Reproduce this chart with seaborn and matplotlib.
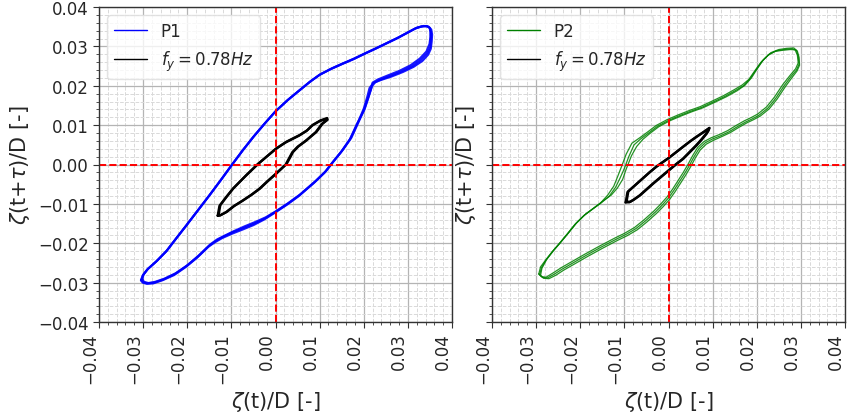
import matplotlib
matplotlib.use("Agg")
import matplotlib.pyplot as plt
from matplotlib.lines import Line2D
from matplotlib.ticker import MultipleLocator
import numpy as np
import pandas as pd
import seaborn as sns

# Phase portraits: zeta(t)/D against zeta(t+tau)/D, several recorded cycles each
P1_cycle_a = [(-0.0304,-0.0293),(-0.0300,-0.0281),(-0.0290,-0.0266),(-0.0270,-0.0246),(-0.0247,-0.0220),
              (-0.0225,-0.0188),(-0.0202,-0.0155),(-0.0176,-0.0117),(-0.0150,-0.0079),(-0.0124,-0.0040),
              (-0.0098,0.0000),(-0.0074,0.0036),(-0.0050,0.0070),(-0.0025,0.0103),(0.0000,0.0135),
              (0.0027,0.0163),(0.0054,0.0188),(0.0078,0.0210),(0.0100,0.0228),(0.0126,0.0243),
              (0.0152,0.0256),(0.0177,0.0268),(0.0201,0.0281),(0.0226,0.0294),(0.0250,0.0307),
              (0.0276,0.0321),(0.0301,0.0336),(0.0318,0.0346),(0.0332,0.0351),(0.0344,0.0351),
              (0.0350,0.0346),(0.0352,0.0335),(0.0352,0.0319),(0.0351,0.0300),(0.0344,0.0283),
              (0.0330,0.0266),(0.0310,0.0250),(0.0285,0.0236),(0.0258,0.0224),(0.0235,0.0214),
              (0.0221,0.0206),(0.0213,0.0194),(0.0208,0.0172),(0.0200,0.0142),(0.0188,0.0110),
              (0.0170,0.0066),(0.0150,0.0034),(0.0129,0.0005),(0.0113,-0.0018),(0.0090,-0.0043),
              (0.0054,-0.0078),(0.0027,-0.0100),(0.0000,-0.0120),(-0.0024,-0.0137),(-0.0048,-0.0150),
              (-0.0072,-0.0161),(-0.0097,-0.0172),(-0.0118,-0.0183),(-0.0135,-0.0194),(-0.0150,-0.0206),
              (-0.0176,-0.0234),(-0.0202,-0.0258),(-0.0228,-0.0278),(-0.0254,-0.0292),(-0.0275,-0.0300),
              (-0.0290,-0.0302),(-0.0300,-0.0299),(-0.0304,-0.0293)]
P1_cycle_b = [(-0.0302,-0.0291),(-0.0299,-0.0279),(-0.0288,-0.0264),(-0.0268,-0.0244),(-0.0246,-0.0218),
              (-0.0224,-0.0186),(-0.0201,-0.0153),(-0.0175,-0.0115),(-0.0149,-0.0077),(-0.0123,-0.0038),
              (-0.0097,0.0002),(-0.0073,0.0038),(-0.0049,0.0072),(-0.0024,0.0105),(0.0002,0.0137),
              (0.0029,0.0165),(0.0056,0.0190),(0.0080,0.0212),(0.0103,0.0230),(0.0129,0.0245),
              (0.0155,0.0258),(0.0180,0.0270),(0.0204,0.0283),(0.0229,0.0296),(0.0253,0.0309),
              (0.0279,0.0323),(0.0304,0.0338),(0.0321,0.0348),(0.0336,0.0352),(0.0347,0.0350),
              (0.0353,0.0343),(0.0355,0.0330),(0.0354,0.0312),(0.0352,0.0294),(0.0346,0.0279),
              (0.0333,0.0263),(0.0313,0.0248),(0.0289,0.0235),(0.0262,0.0223),(0.0240,0.0215),
              (0.0226,0.0209),(0.0219,0.0199),(0.0212,0.0176),(0.0203,0.0145),(0.0190,0.0112),
              (0.0172,0.0068),(0.0152,0.0036),(0.0131,0.0007),(0.0115,-0.0016),(0.0092,-0.0041),
              (0.0056,-0.0076),(0.0029,-0.0098),(0.0002,-0.0118),(-0.0022,-0.0134),(-0.0046,-0.0146),
              (-0.0070,-0.0157),(-0.0094,-0.0169),(-0.0114,-0.0180),(-0.0132,-0.0190),(-0.0148,-0.0203),
              (-0.0174,-0.0231),(-0.0200,-0.0256),(-0.0226,-0.0276),(-0.0252,-0.0290),(-0.0273,-0.0298),
              (-0.0288,-0.0301),(-0.0298,-0.0298),(-0.0302,-0.0291)]
P1_cycle_c = [(-0.0305,-0.0294),(-0.0301,-0.0282),(-0.0291,-0.0267),(-0.0271,-0.0247),(-0.0248,-0.0221),
              (-0.0226,-0.0189),(-0.0203,-0.0156),(-0.0177,-0.0118),(-0.0151,-0.0080),(-0.0125,-0.0041),
              (-0.0099,-0.0001),(-0.0075,0.0035),(-0.0051,0.0069),(-0.0026,0.0102),(-0.0001,0.0134),
              (0.0026,0.0162),(0.0053,0.0187),(0.0077,0.0209),(0.0099,0.0227),(0.0125,0.0242),
              (0.0151,0.0255),(0.0176,0.0267),(0.0200,0.0280),(0.0225,0.0293),(0.0249,0.0306),
              (0.0275,0.0320),(0.0300,0.0335),(0.0316,0.0345),(0.0330,0.0350),(0.0342,0.0352),
              (0.0349,0.0348),(0.0351,0.0338),(0.0351,0.0324),(0.0349,0.0306),(0.0342,0.0287),
              (0.0327,0.0269),(0.0306,0.0252),(0.0281,0.0238),(0.0254,0.0226),(0.0232,0.0216),
              (0.0220,0.0208),(0.0216,0.0190),(0.0210,0.0168),(0.0201,0.0138),(0.0186,0.0106),
              (0.0168,0.0063),(0.0148,0.0031),(0.0127,0.0002),(0.0111,-0.0021),(0.0088,-0.0046),
              (0.0052,-0.0081),(0.0025,-0.0103),(-0.0002,-0.0123),(-0.0026,-0.0140),(-0.0050,-0.0154),
              (-0.0074,-0.0165),(-0.0099,-0.0176),(-0.0121,-0.0187),(-0.0138,-0.0198),(-0.0152,-0.0209),
              (-0.0178,-0.0237),(-0.0204,-0.0261),(-0.0230,-0.0281),(-0.0256,-0.0294),(-0.0277,-0.0302),
              (-0.0292,-0.0303),(-0.0301,-0.0300),(-0.0305,-0.0294)]

P2_cycle_a = [(-0.0292,-0.0280),(-0.0288,-0.0262),(-0.0278,-0.0243),(-0.0262,-0.0220),(-0.0245,-0.0198),
              (-0.0228,-0.0175),(-0.0210,-0.0150),(-0.0190,-0.0128),(-0.0172,-0.0113),(-0.0152,-0.0097),
              (-0.0134,-0.0080),(-0.0120,-0.0058),(-0.0110,-0.0035),(-0.0100,-0.0010),(-0.0090,0.0020),
              (-0.0078,0.0050),(-0.0062,0.0066),(-0.0045,0.0080),(-0.0025,0.0097),(0.0000,0.0112),
              (0.0025,0.0124),(0.0050,0.0135),(0.0075,0.0145),(0.0100,0.0158),(0.0128,0.0173),
              (0.0152,0.0188),(0.0170,0.0200),(0.0185,0.0218),(0.0198,0.0240),(0.0212,0.0262),
              (0.0228,0.0280),(0.0245,0.0289),(0.0262,0.0292),(0.0280,0.0294),(0.0290,0.0290),
              (0.0294,0.0275),(0.0296,0.0255),(0.0290,0.0240),(0.0278,0.0224),(0.0262,0.0200),
              (0.0243,0.0168),(0.0225,0.0143),(0.0205,0.0125),(0.0190,0.0116),(0.0175,0.0108),
              (0.0156,0.0096),(0.0137,0.0083),(0.0118,0.0073),(0.0100,0.0065),(0.0083,0.0055),
              (0.0069,0.0040),(0.0058,0.0020),(0.0047,-0.0003),(0.0036,-0.0024),(0.0024,-0.0045),
              (0.0012,-0.0066),(0.0000,-0.0085),(-0.0015,-0.0104),(-0.0030,-0.0121),(-0.0052,-0.0143),
              (-0.0074,-0.0163),(-0.0097,-0.0178),(-0.0119,-0.0190),(-0.0153,-0.0210),(-0.0187,-0.0231),
              (-0.0215,-0.0249),(-0.0240,-0.0265),(-0.0258,-0.0278),(-0.0274,-0.0288),(-0.0285,-0.0287),
              (-0.0292,-0.0280)]
P2_cycle_b = [(-0.0290,-0.0282),(-0.0287,-0.0264),(-0.0276,-0.0241),(-0.0260,-0.0218),(-0.0243,-0.0196),
              (-0.0226,-0.0173),(-0.0208,-0.0148),(-0.0188,-0.0126),(-0.0170,-0.0111),(-0.0150,-0.0094),
              (-0.0130,-0.0078),(-0.0116,-0.0060),(-0.0104,-0.0038),(-0.0096,-0.0012),(-0.0084,0.0022),
              (-0.0072,0.0046),(-0.0058,0.0064),(-0.0042,0.0079),(-0.0022,0.0096),(0.0003,0.0111),
              (0.0028,0.0123),(0.0053,0.0134),(0.0078,0.0144),(0.0103,0.0157),(0.0131,0.0172),
              (0.0155,0.0187),(0.0173,0.0201),(0.0188,0.0220),(0.0201,0.0243),(0.0215,0.0266),
              (0.0232,0.0284),(0.0250,0.0292),(0.0268,0.0295),(0.0284,0.0296),(0.0292,0.0288),
              (0.0296,0.0272),(0.0297,0.0252),(0.0291,0.0237),(0.0280,0.0221),(0.0265,0.0198),
              (0.0246,0.0166),(0.0228,0.0141),(0.0208,0.0123),(0.0193,0.0114),(0.0178,0.0106),
              (0.0159,0.0094),(0.0140,0.0081),(0.0121,0.0071),(0.0103,0.0062),(0.0086,0.0052),
              (0.0072,0.0037),(0.0061,0.0017),(0.0050,-0.0006),(0.0039,-0.0027),(0.0027,-0.0048),
              (0.0015,-0.0069),(0.0003,-0.0088),(-0.0012,-0.0107),(-0.0027,-0.0124),(-0.0049,-0.0146),
              (-0.0071,-0.0166),(-0.0094,-0.0181),(-0.0116,-0.0193),(-0.0150,-0.0213),(-0.0184,-0.0234),
              (-0.0212,-0.0252),(-0.0237,-0.0268),(-0.0255,-0.0281),(-0.0271,-0.0290),(-0.0283,-0.0289),
              (-0.0290,-0.0282)]
P2_cycle_c = [(-0.0294,-0.0278),(-0.0290,-0.0260),(-0.0280,-0.0245),(-0.0264,-0.0222),(-0.0247,-0.0200),
              (-0.0230,-0.0177),(-0.0212,-0.0152),(-0.0192,-0.0130),(-0.0174,-0.0115),(-0.0155,-0.0099),
              (-0.0138,-0.0078),(-0.0124,-0.0055),(-0.0115,-0.0030),(-0.0106,-0.0004),(-0.0096,0.0026),
              (-0.0083,0.0054),(-0.0065,0.0068),(-0.0048,0.0082),(-0.0028,0.0099),(-0.0003,0.0114),
              (0.0022,0.0126),(0.0047,0.0137),(0.0072,0.0147),(0.0097,0.0160),(0.0125,0.0175),
              (0.0149,0.0190),(0.0167,0.0202),(0.0182,0.0216),(0.0195,0.0237),(0.0209,0.0259),
              (0.0225,0.0277),(0.0241,0.0287),(0.0258,0.0290),(0.0276,0.0292),(0.0287,0.0291),
              (0.0292,0.0278),(0.0294,0.0258),(0.0288,0.0243),(0.0276,0.0227),(0.0259,0.0203),
              (0.0240,0.0171),(0.0222,0.0146),(0.0202,0.0128),(0.0187,0.0119),(0.0172,0.0111),
              (0.0153,0.0099),(0.0134,0.0086),(0.0115,0.0076),(0.0097,0.0068),(0.0080,0.0058),
              (0.0066,0.0043),(0.0055,0.0023),(0.0044,0.0000),(0.0033,-0.0021),(0.0021,-0.0042),
              (0.0009,-0.0063),(-0.0003,-0.0082),(-0.0018,-0.0101),(-0.0033,-0.0118),(-0.0055,-0.0140),
              (-0.0077,-0.0160),(-0.0100,-0.0175),(-0.0122,-0.0187),(-0.0156,-0.0207),(-0.0190,-0.0228),
              (-0.0218,-0.0246),(-0.0243,-0.0262),(-0.0261,-0.0275),(-0.0277,-0.0286),(-0.0288,-0.0285),
              (-0.0294,-0.0278)]

# Forced-motion reference loops at f_y = 0.78 Hz
FY1_cycle_a = [(-0.0131,-0.0130),(-0.0127,-0.0105),(-0.0112,-0.0083),(-0.0097,-0.0062),(-0.0082,-0.0045),
               (-0.0067,-0.0028),(-0.0041,0.0000),(-0.0020,0.0020),(0.0000,0.0039),(0.0023,0.0056),
               (0.0053,0.0073),(0.0070,0.0085),(0.0083,0.0099),(0.0100,0.0110),(0.0115,0.0116),
               (0.0117,0.0113),(0.0105,0.0103),(0.0091,0.0082),(0.0068,0.0060),(0.0050,0.0045),
               (0.0038,0.0031),(0.0023,0.0000),(0.0000,-0.0024),(-0.0018,-0.0042),(-0.0037,-0.0062),
               (-0.0055,-0.0077),(-0.0075,-0.0092),(-0.0095,-0.0106),(-0.0112,-0.0121),(-0.0127,-0.0130),
               (-0.0131,-0.0130)]
FY1_cycle_b = [(-0.0129,-0.0128),(-0.0125,-0.0103),(-0.0110,-0.0081),(-0.0095,-0.0060),(-0.0080,-0.0043),
               (-0.0065,-0.0026),(-0.0039,0.0002),(-0.0018,0.0022),(0.0002,0.0041),(0.0025,0.0058),
               (0.0055,0.0075),(0.0072,0.0087),(0.0085,0.0101),(0.0102,0.0112),(0.0117,0.0118),
               (0.0118,0.0114),(0.0107,0.0104),(0.0093,0.0083),(0.0070,0.0061),(0.0052,0.0046),
               (0.0040,0.0032),(0.0025,0.0001),(0.0002,-0.0023),(-0.0016,-0.0041),(-0.0035,-0.0061),
               (-0.0053,-0.0076),(-0.0073,-0.0091),(-0.0093,-0.0105),(-0.0110,-0.0120),(-0.0125,-0.0129),
               (-0.0129,-0.0128)]
FY2_cycle_a = [(-0.0097,-0.0096),(-0.0093,-0.0070),(-0.0076,-0.0053),(-0.0059,-0.0036),(-0.0044,-0.0021),
               (-0.0029,-0.0007),(-0.0014,0.0005),(0.0000,0.0016),(0.0016,0.0030),(0.0032,0.0044),
               (0.0047,0.0057),(0.0062,0.0069),(0.0078,0.0081),(0.0092,0.0092),(0.0090,0.0086),
               (0.0085,0.0078),(0.0074,0.0063),(0.0062,0.0048),(0.0047,0.0031),(0.0032,0.0014),
               (0.0016,0.0000),(0.0000,-0.0015),(-0.0018,-0.0032),(-0.0036,-0.0049),(-0.0051,-0.0064),
               (-0.0066,-0.0079),(-0.0080,-0.0090),(-0.0089,-0.0096),(-0.0097,-0.0096)]
FY2_cycle_b = [(-0.0095,-0.0094),(-0.0091,-0.0068),(-0.0074,-0.0051),(-0.0057,-0.0034),(-0.0042,-0.0019),
               (-0.0027,-0.0005),(-0.0012,0.0007),(0.0002,0.0018),(0.0018,0.0032),(0.0034,0.0046),
               (0.0049,0.0059),(0.0064,0.0071),(0.0080,0.0083),(0.0093,0.0093),(0.0091,0.0087),
               (0.0087,0.0079),(0.0076,0.0064),(0.0064,0.0049),(0.0049,0.0032),(0.0034,0.0015),
               (0.0018,0.0001),(0.0002,-0.0014),(-0.0016,-0.0031),(-0.0034,-0.0048),(-0.0049,-0.0063),
               (-0.0064,-0.0078),(-0.0078,-0.0089),(-0.0087,-0.0095),(-0.0095,-0.0094)]

panels = [
    ("P1", "blue", 1.5, 0.9, [P1_cycle_a, P1_cycle_b, P1_cycle_c], [FY1_cycle_a, FY1_cycle_b]),
    ("P2", "green", 0.9, 0.85, [P2_cycle_a, P2_cycle_b, P2_cycle_c], [FY2_cycle_a, FY2_cycle_b]),
]
ticks = [-0.04, -0.03, -0.02, -0.01, 0.00, 0.01, 0.02, 0.03, 0.04]
fy_label = r"$f_y = 0.78Hz$"


def cycles_frame(cycles):
    rows = []
    for k, cyc in enumerate(cycles):
        for x, y in cyc:
            rows.append({"x": x, "y": y, "cycle": k})
    return pd.DataFrame(rows)


sns.set_style("ticks")
plt.rcParams["font.family"] = ["DejaVu Sans"]

fig = plt.figure(figsize=(8.47, 4.14), dpi=100)
ax1 = fig.add_axes([99 / 847, 1 - 323 / 414, 353 / 847, 315 / 414])
ax2 = fig.add_axes([492 / 847, 1 - 323 / 414, 353 / 847, 315 / 414], sharey=ax1)

for ax, (name, color, lw, alpha, cycles, fy_cycles) in zip([ax1, ax2], panels):
    ax.set_axisbelow(True)
    ax.xaxis.set_minor_locator(MultipleLocator(0.002))
    ax.yaxis.set_minor_locator(MultipleLocator(0.002))
    ax.grid(which="major", color="#b4b4b4", lw=0.9, ls="-")
    ax.grid(which="minor", color="#d9d9d9", lw=0.7, ls="--")

    sns.lineplot(data=cycles_frame(cycles), x="x", y="y", units="cycle", estimator=None,
                 sort=False, color=color, lw=lw, alpha=alpha, ax=ax, legend=False)
    sns.lineplot(data=cycles_frame(fy_cycles), x="x", y="y", units="cycle", estimator=None,
                 sort=False, color="black", lw=1.7, ax=ax, legend=False)

    ax.axhline(0, color="red", ls="--", lw=1.4)
    ax.axvline(0, color="red", ls="--", lw=1.4)

    ax.set_xlim(-0.04, 0.04)
    ax.set_ylim(-0.04, 0.04)
    ax.set_xticks(ticks)
    ax.set_yticks(ticks)
    ax.set_xticklabels([f"{t:.2f}".replace("-", "\u2212") for t in ticks],
                       rotation=90, ha="right", fontsize=12)
    ax.tick_params(axis="y", labelsize=12)
    ax.tick_params(which="both", direction="out", color="#333333")
    ax.tick_params(which="major", length=4)
    ax.tick_params(which="minor", length=2.5)
    for sp in ax.spines.values():
        sp.set_color("#333333")
        sp.set_linewidth(1.0)

    ax.set_xlabel(r"$\zeta$(t)/D [-]", fontsize=15)
    ax.set_ylabel(r"$\zeta$(t+$\tau$)/D [-]", fontsize=15)

    handles = [Line2D([], [], color=color, lw=1.0), Line2D([], [], color="black", lw=1.0)]
    ax.legend(handles, [name, fy_label], loc="upper left", fontsize=12, framealpha=0.8,
              edgecolor="#dddddd")

ax1.set_yticklabels([f"{t:.2f}".replace("-", "\u2212") for t in ticks])
ax2.tick_params(axis="y", labelleft=False)

fig.savefig("out.png", dpi=100)
